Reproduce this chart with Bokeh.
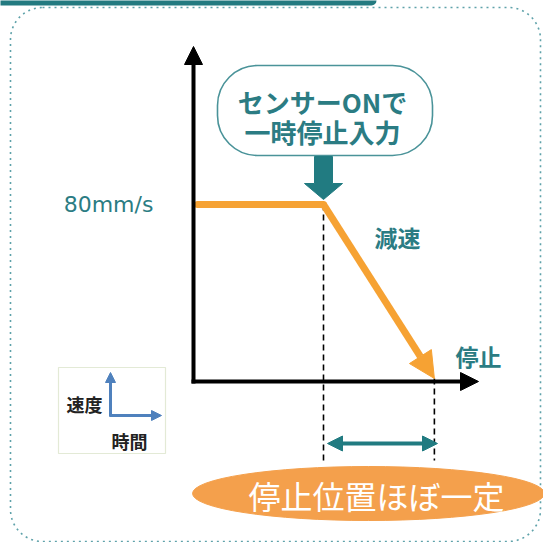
from bokeh.plotting import figure
from bokeh.models import Arrow, NormalHead, BoxAnnotation, Range1d
from bokeh.core.properties import value
from bokeh.embed import file_html
from bokeh.resources import INLINE

# ---------------- data ----------------
time_s = [0.0, 2.5, 4.7]          # start, sensor ON, stop
speed = [80, 80, 0]               # mm/s
speed_label = "80mm/s"
callout_lines = ["センサーONで", "一時停止入力"]
decel_label = "減速"
stop_label = "停止"
result_label = "停止位置ほぼ一定"
legend_y_label = "速度"
legend_x_label = "時間"

# ---------------- colours ----------------
TEAL = "#2b7c83"
TEAL_DARK = "#217b81"
ORANGE = "#f6a233"
ELLIPSE = "#f4a04c"
BLUE = "#4f81bd"
JP = value("Noto Sans CJK JP")

# page-pixel helpers
OFF = 0
PX_T0, KX = 197.0, 50.4
PY_V0 = 378.0
KY = (PY_V0 - 204.0) / 80.0


def X(px):
    return (px - PX_T0) / KX


def Y(py):
    return (PY_V0 - py) / KY


W, H = 543, 542
p = figure(width=W, height=H, output_backend="svg", toolbar_location=None,
           x_range=Range1d(X(OFF), X(OFF + W)), y_range=Range1d(Y(OFF + H), Y(OFF)),
           x_axis_location=None, y_axis_location=None, min_border=0,
           outline_line_color=None)
p.xgrid.visible = False
p.ygrid.visible = False
p.background_fill_color = "white"
p.border_fill_color = "white"

# top header bar
p.add_layout(BoxAnnotation(left=X(-20), right=X(376), top=Y(-20), bottom=Y(5),
                           border_radius=5, fill_color="#237a80", fill_alpha=1,
                           line_alpha=0, level="underlay"))

# outer dotted rounded frame
p.add_layout(BoxAnnotation(left=X(10), right=X(540), top=Y(7), bottom=Y(541),
                           border_radius=32, fill_alpha=0, line_color="#5fa2aa",
                           line_alpha=1, line_width=1.6, line_dash="dotted",
                           level="underlay"))

# dashed guide lines
p.segment(x0=[time_s[1], time_s[2]], y0=[speed[1], speed[2]],
          x1=[time_s[1], time_s[2]], y1=[Y(460), Y(460)],
          line_color="black", line_width=1.6, line_dash="6 4")

# speed profile (orange)
p.line(time_s[:2], speed[:2], line_color=ORANGE, line_width=7, line_cap="round")
p.add_layout(Arrow(x_start=time_s[1], y_start=speed[1], x_end=time_s[2], y_end=speed[2],
                   line_color=ORANGE, line_width=7,
                   end=NormalHead(size=26, fill_color=ORANGE, line_color=ORANGE)))

# axes arrows
p.add_layout(Arrow(x_start=X(193), y_start=Y(383), x_end=X(193), y_end=Y(46),
                   line_color="black", line_width=4,
                   end=NormalHead(size=18, fill_color="black", line_color="black")))
p.add_layout(Arrow(x_start=X(191), y_start=Y(381), x_end=X(478), y_end=Y(381),
                   line_color="black", line_width=4,
                   end=NormalHead(size=18, fill_color="black", line_color="black")))

# callout box
p.add_layout(BoxAnnotation(left=X(217), right=X(432), top=Y(65), bottom=Y(155),
                           border_radius=40, fill_color="white", fill_alpha=1,
                           line_color="#4a9399", line_alpha=1, line_width=1.6,
                           level="underlay"))
p.text(x=[X(322), X(322)], y=[Y(101), Y(131)], text=callout_lines,
       text_font=JP, text_font_size="26px", text_font_style="bold",
       text_color=TEAL, text_align="center", text_baseline="middle")

# callout down arrow (centred on the sensor time)
cx = PX_T0 + time_s[1] * KX
arrow_px = [(cx - 9, 156), (cx + 9, 156), (cx + 9, 183), (cx + 19, 183),
            (cx, 199), (cx - 19, 183), (cx - 9, 183)]
p.patch([X(a) for a, b in arrow_px], [Y(b) for a, b in arrow_px],
        fill_color=TEAL_DARK, line_color=TEAL_DARK)

# labels
p.text(x=[X(108)], y=[speed[0]], text=[speed_label], text_font=value("DejaVu Sans"),
       text_font_size="22px", text_color=TEAL, text_align="center",
       text_baseline="middle")
p.text(x=[X(397)], y=[Y(236)], text=[decel_label], text_font=JP,
       text_font_size="23px", text_font_style="bold", text_color=TEAL,
       text_align="center", text_baseline="middle")
p.text(x=[X(478)], y=[Y(355)], text=[stop_label], text_font=JP,
       text_font_size="23px", text_font_style="bold", text_color=TEAL,
       text_align="center", text_baseline="middle")

# stop-distance double arrow
p.add_layout(Arrow(x_start=X(327), y_start=Y(443), x_end=X(437), y_end=Y(443),
                   line_color=TEAL_DARK, line_width=4,
                   start=NormalHead(size=15, fill_color=TEAL_DARK, line_color=TEAL_DARK),
                   end=NormalHead(size=15, fill_color=TEAL_DARK, line_color=TEAL_DARK)))

# result ellipse
p.ellipse(x=[X(368)], y=[Y(493)], width=[352], height=[54],
          width_units="screen", height_units="screen",
          fill_color=ELLIPSE, line_color=ELLIPSE)
p.text(x=[X(376)], y=[Y(494)], text=[result_label], text_font=JP,
       text_font_size="32px", text_color="white", text_align="center",
       text_baseline="middle")

# mini legend box
p.add_layout(BoxAnnotation(left=X(58), right=X(165), top=Y(367), bottom=Y(453),
                           fill_alpha=0, line_color="#e3ead6", line_alpha=1,
                           line_width=1.2, level="underlay"))
p.add_layout(Arrow(x_start=X(110), y_start=Y(416), x_end=X(110), y_end=Y(372),
                   line_color=BLUE, line_width=3,
                   end=NormalHead(size=10, fill_color=BLUE, line_color=BLUE)))
p.add_layout(Arrow(x_start=X(109), y_start=Y(415), x_end=X(161), y_end=Y(415),
                   line_color=BLUE, line_width=3,
                   end=NormalHead(size=10, fill_color=BLUE, line_color=BLUE)))
p.text(x=[X(84)], y=[Y(403)], text=[legend_y_label], text_font=JP,
       text_font_size="18px", text_font_style="bold", text_color="#222222",
       text_align="center", text_baseline="middle")
p.text(x=[X(129)], y=[Y(440)], text=[legend_x_label], text_font=JP,
       text_font_size="18px", text_font_style="bold", text_color="#222222",
       text_align="center", text_baseline="middle")

open("out.html", "w").write(file_html(p, INLINE))
